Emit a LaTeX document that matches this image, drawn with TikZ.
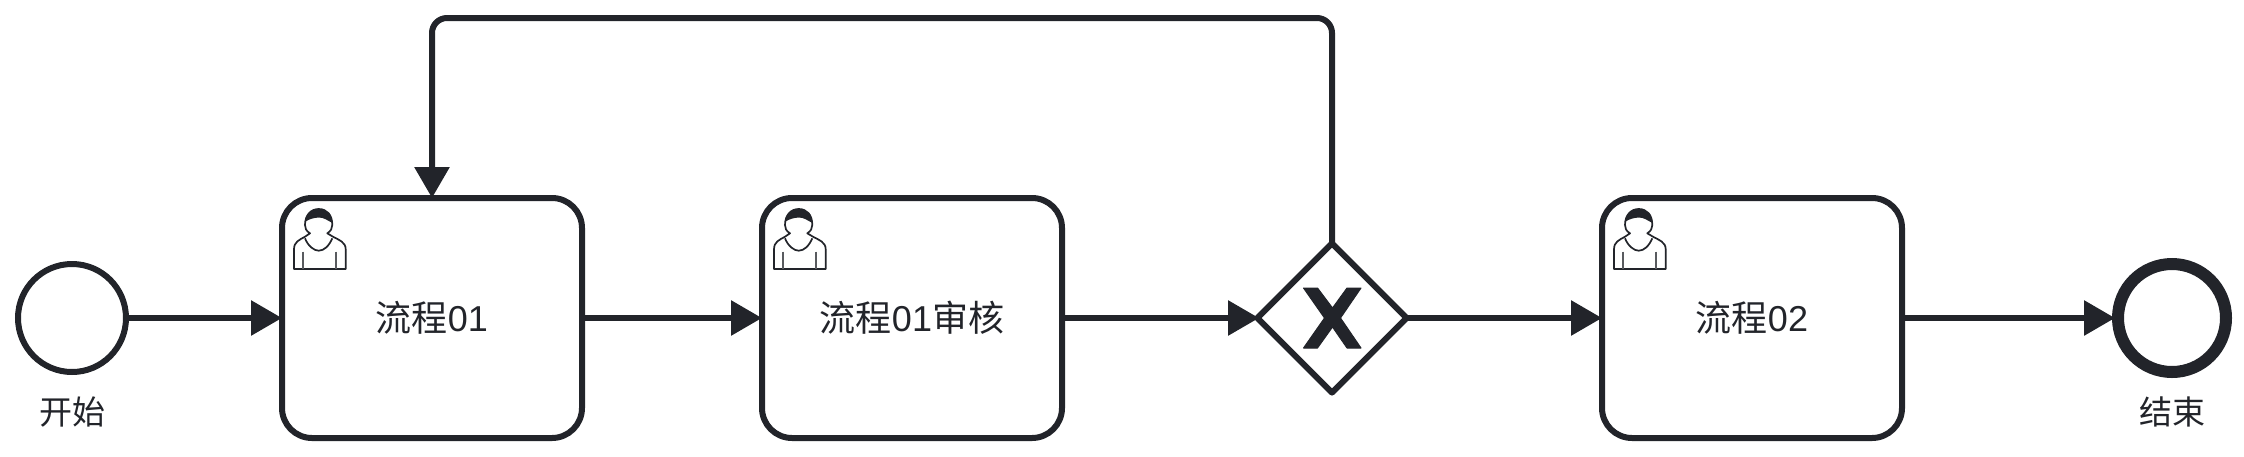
\documentclass[tikz,border=0pt]{standalone}
\usepackage{fontspec}
\usepackage{xcolor}
\setmainfont{Liberation Sans}
\newfontfamily\cjk{Noto Sans CJK SC}
\usetikzlibrary{arrows.meta,shapes.geometric}
\definecolor{bpmnink}{HTML}{22242A}
\tikzset{
  startevent/.style={circle,draw=bpmnink,line width=6pt,fill=white,inner sep=0pt,minimum size=108pt},
  endevent/.style={circle,draw=bpmnink,line width=12pt,fill=white,inner sep=0pt,minimum size=108pt},
  usertask/.style={rectangle,rounded corners=30pt,draw=bpmnink,line width=6pt,fill=white,
    minimum width=300pt,minimum height=240pt,text=bpmnink,font=\fontsize{36pt}{40pt}\selectfont},
  gateway/.style={diamond,aspect=1,draw=bpmnink,line width=6pt,line join=round,fill=white,
    inner sep=0pt,minimum size=150pt,outer sep=1pt},
  eventlabel/.style={text=bpmnink,inner sep=0pt,font=\fontsize{33pt}{36pt}\selectfont},
  flow/.style={draw=bpmnink,line width=6pt,shorten >=-3pt,-{Triangle[length=31pt,width=34pt]}},
  pics/usericon/.style={code={
    \draw[bpmnink,line width=1.7pt,line join=round]
      (-138,-49) -- (-138,-68.7) .. controls (-138,-76) and (-133,-78) .. (-127,-81.3)
      -- (-122,-84.7) .. controls (-126,-87) and (-127,-90) .. (-127,-93)
      .. controls (-127,-103) and (-121,-109) .. (-113.3,-109)
      .. controls (-105,-109) and (-99.7,-103) .. (-99.7,-93)
      .. controls (-99.7,-90) and (-101,-87) .. (-104.7,-84.7)
      -- (-99,-81.3) .. controls (-93,-78) and (-86.3,-76) .. (-86.3,-68.7)
      -- (-86.3,-49) -- cycle;
    \draw[bpmnink,line width=1.7pt]
      (-127,-79.7) .. controls (-124,-72) and (-118,-67.3) .. (-113.3,-67.3)
      .. controls (-108,-67.3) and (-103,-72) .. (-99.7,-79.7);
    \draw[bpmnink!75,line width=2pt] (-128.7,-66.3) -- (-128.7,-49);
    \draw[bpmnink!75,line width=2pt] (-96,-66.3) -- (-96,-49);
    \fill[bpmnink]
      (-127,-96) .. controls (-127,-104) and (-121,-109) .. (-113.3,-109)
      .. controls (-105,-109) and (-99.7,-104) .. (-99.7,-95)
      .. controls (-105,-98) and (-108,-100.3) .. (-113,-100.5)
      .. controls (-118,-100.3) and (-123,-99) .. (-127,-96) -- cycle;
  }},
  pics/gatewayx/.style={code={
    \fill[bpmnink,line join=round,draw=bpmnink,line width=1pt]
      (-28.5,-30) -- (-14.5,-30) -- (0.5,-10) -- (15,-30) -- (29,-30)
      -- (8.5,0) -- (29,30) -- (15,30) -- (0.5,9) -- (-14.5,30) -- (-28.5,30) -- (-7.5,0) -- cycle;
  }}
}

\begin{document}
\begin{tikzpicture}[x=1pt,y=-1pt]
    \useasboundingbox (0,0) rectangle (2244,456);

    \node[startevent] (start) at (72,318) {};
    \node[usertask] (task01) at (432,318) {{\cjk 流程}01};
    \node[usertask] (task01check) at (912,318) {{\cjk 流程}01{\cjk 审核}};
    \node[gateway] (gate) at (1332,318) {};
    \node[usertask] (task02) at (1752,318) {{\cjk 流程}02};
    \node[endevent] (end) at (2172,318) {};

    \node[eventlabel] (startlabel) at (72,412) {\cjk 开始};
    \node[eventlabel] (endlabel) at (2172,412) {\cjk 结束};

    \pic at (task01.center) {usericon};
    \pic at (task01check.center) {usericon};
    \pic at (task02.center) {usericon};
    \pic at (gate.center) {gatewayx};

    \coordinate (loopright) at (1332,18);
    \coordinate (loopleft) at (432,18);

    \draw[flow] (start) -- (task01);
    \draw[flow] (task01) -- (task01check);
    \draw[flow] (task01check) -- (gate);
    \draw[flow] (gate) -- (task02);
    \draw[flow] (task02) -- (end);
    \draw[flow,rounded corners=15pt] (gate.north) -- (loopright) -- (loopleft) -- (task01.north);
\end{tikzpicture}
\end{document}
